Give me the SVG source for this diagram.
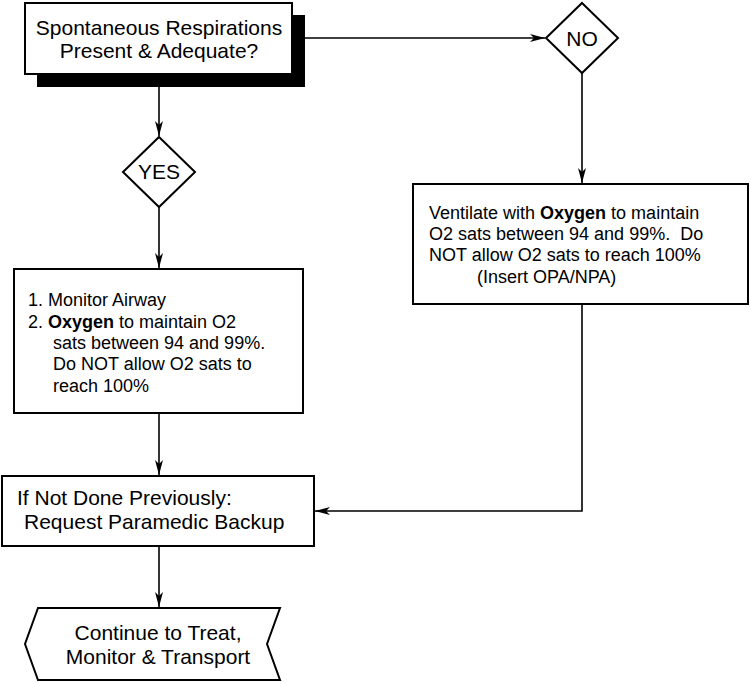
<svg xmlns="http://www.w3.org/2000/svg" width="751" height="683" viewBox="0 0 751 683">
<defs>
<style>
text{font-family:"Liberation Sans",Arial,sans-serif;fill:#000}
.big{font-size:21px}
.sm{font-size:18px}
.box{fill:#fff;stroke:#000;stroke-width:2}
.ln{fill:none;stroke:#000;stroke-width:1.6}
</style>
<marker id="ah" markerUnits="userSpaceOnUse" markerWidth="16" markerHeight="10" refX="15" refY="4.5" orient="auto">
<path d="M0,0.5 L15,4.5 L0,8.5 L4,4.5 z" fill="#000"/>
</marker>
</defs>
<g id="connectors">
<path class="ln" d="M305,38 H545" marker-end="url(#ah)"/>
<path class="ln" d="M159,87 V136" marker-end="url(#ah)"/>
<path class="ln" d="M159,207 V268" marker-end="url(#ah)"/>
<path class="ln" d="M582,73 V183" marker-end="url(#ah)"/>
<path class="ln" d="M582,304 V511 H315" marker-end="url(#ah)"/>
<path class="ln" d="M159,413 V475" marker-end="url(#ah)"/>
<path class="ln" d="M159,546 V607" marker-end="url(#ah)"/>
</g>
<g id="start">
<rect x="37" y="15" width="268" height="72" fill="#000"/>
<rect class="box" x="25" y="3" width="267" height="71"/>
<text class="big" x="159" y="35" text-anchor="middle">Spontaneous Respirations</text>
<text class="big" x="159" y="58" text-anchor="middle">Present &amp; Adequate?</text>
</g>
<g id="no">
<polygon class="box" points="582,3 618,38 582,73 546,38"/>
<text class="big" x="582" y="46" text-anchor="middle">NO</text>
</g>
<g id="yes">
<polygon class="box" points="159,137 195,172 159,207 123,172"/>
<text class="big" x="159" y="179" text-anchor="middle">YES</text>
</g>
<g id="ventilate">
<rect class="box" x="413" y="184" width="335" height="120"/>
<text class="sm" x="429" y="219">Ventilate with <tspan font-weight="bold">Oxygen</tspan> to maintain</text>
<text class="sm" x="429" y="240" xml:space="preserve">O2 sats between 94 and 99%.  Do</text>
<text class="sm" x="429" y="261">NOT allow O2 sats to reach 100%</text>
<text class="sm" x="477" y="283">(Insert OPA/NPA)</text>
</g>
<g id="monitor">
<rect class="box" x="14" y="269" width="289" height="144"/>
<text class="sm" x="28" y="306">1. Monitor Airway</text>
<text class="sm" x="28" y="328">2. <tspan font-weight="bold">Oxygen</tspan> to maintain O2</text>
<text class="sm" x="53" y="349">sats between 94 and 99%.</text>
<text class="sm" x="53" y="370">Do NOT allow O2 sats to</text>
<text class="sm" x="53" y="392">reach 100%</text>
</g>
<g id="backup">
<rect class="box" x="2" y="476" width="312" height="70"/>
<text class="big" x="17" y="505">If Not Done Previously:</text>
<text class="big" x="24" y="529">Request Paramedic Backup</text>
</g>
<g id="continue">
<polygon class="box" points="38,608 280,608 267,644 280,680 38,680 25,644"/>
<text class="big" x="158" y="640" text-anchor="middle">Continue to Treat,</text>
<text class="big" x="158" y="664" text-anchor="middle">Monitor &amp; Transport</text>
</g>
</svg>
